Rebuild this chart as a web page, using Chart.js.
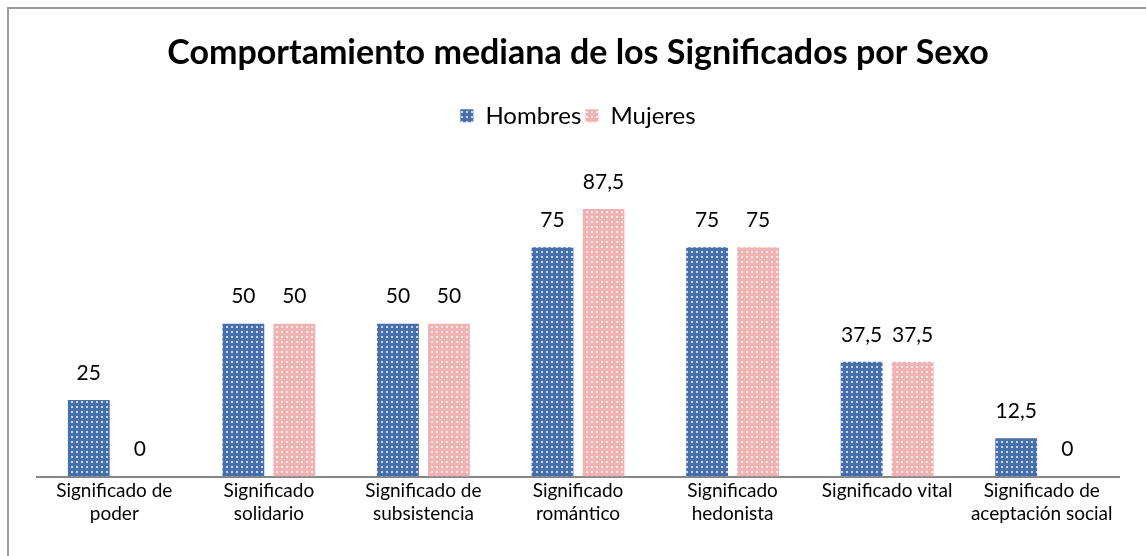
<!DOCTYPE html>
<html>
<head>
<meta charset="utf-8">
<script src="https://cdn.jsdelivr.net/npm/chart.js@4"></script>
<style>
    body { margin: 0; background: #fff; overflow: hidden; }
    #wrap { position: relative; width: 1146px; height: 556px; }
    #frame {
        position: absolute; left: 7px; top: 7px; width: 1200px; height: 600px;
        border-left: 2px solid #9a9a9a; border-top: 2px solid #9a9a9a;
    }
    canvas { position: absolute; left: 0; top: 0; }
</style>
</head>
<body>
<div id="wrap">
    <div id="frame"></div>
    <canvas id="sexoChart" width="1146" height="556"></canvas>
</div>
<script>
// =========================
// Data
// =========================

const categories = [
    ['Significado de', 'poder'],
    ['Significado', 'solidario'],
    ['Significado de', 'subsistencia'],
    ['Significado', 'romántico'],
    ['Significado', 'hedonista'],
    'Significado vital',
    ['Significado de', 'aceptación social']
];
const hombres = [25, 50, 50, 75, 75, 37.5, 12.5];
const mujeres = [0, 50, 50, 87.5, 75, 37.5, 0];

const FONT = 'Lato, "Open Sans", sans-serif';

// dotted fill like the excel pattern
function dotPattern(base, dot) {
    const c = document.createElement('canvas');
    c.width = 5; c.height = 5;
    const g = c.getContext('2d');
    g.fillStyle = base;
    g.fillRect(0, 0, 5, 5);
    g.fillStyle = dot;
    g.fillRect(1, 1, 2, 2);
    return g.createPattern(c, 'repeat');
}

const ctx = document.getElementById('sexoChart');
const blueFill = dotPattern('#4570ab', '#c9d6ea');
const pinkFill = dotPattern('#efb3b3', '#fbe7e7');

// value labels above the bars
const valueLabels = {
    id: 'valueLabels',
    afterDatasetsDraw(chart) {
        const c = chart.ctx;
        c.save();
        c.font = '21px ' + FONT;
        c.fillStyle = '#000';
        c.textAlign = 'center';
        c.textBaseline = 'middle';
        chart.data.datasets.forEach((ds, i) => {
            chart.getDatasetMeta(i).data.forEach((bar, j) => {
                const txt = String(ds.data[j]).replace('.', ',');
                c.fillText(txt, bar.x, bar.y - 27);
            });
        });
        c.restore();
    }
};

// extra room under the legend
const legendGap = {
    id: 'legendGap',
    beforeInit(chart) {
        const fit = chart.legend.fit;
        chart.legend.fit = function () {
            fit.bind(chart.legend)();
            this.height += 33;
        };
    }
};

new Chart(ctx, {
    type: 'bar',
    data: {
        labels: categories,
        datasets: [{
            label: 'Hombres',
            data: hombres,
            backgroundColor: blueFill,
            borderWidth: 0
        }, {
            label: 'Mujeres',
            data: mujeres,
            backgroundColor: pinkFill,
            borderWidth: 0
        }]
    },
    options: {
        responsive: false,
        animation: false,
        categoryPercentage: 0.66,
        barPercentage: 0.82,
        layout: {
            padding: { top: 33, left: 37, right: 27, bottom: 28 }
        },
        plugins: {
            title: {
                display: true,
                text: 'Comportamiento mediana de los Significados por Sexo',
                color: '#000',
                font: { family: FONT, size: 34, weight: 'bold' },
                padding: { top: 0, bottom: 26 }
            },
            legend: {
                position: 'top',
                labels: {
                    color: '#000',
                    font: { family: FONT, size: 24 },
                    boxWidth: 13,
                    boxHeight: 13,
                    padding: 4
                }
            },
            tooltip: { enabled: false }
        },
        scales: {
            x: {
                grid: { display: false, drawTicks: false },
                border: { display: true, color: '#868686', width: 2 },
                ticks: {
                    color: '#000',
                    font: { family: FONT, size: 19, lineHeight: 1.25 },
                    padding: 2,
                    maxRotation: 0,
                    autoSkip: false
                }
            },
            y: {
                display: false,
                min: 0,
                max: 100
            }
        }
    },
    plugins: [valueLabels, legendGap]
});
</script>
</body>
</html>
